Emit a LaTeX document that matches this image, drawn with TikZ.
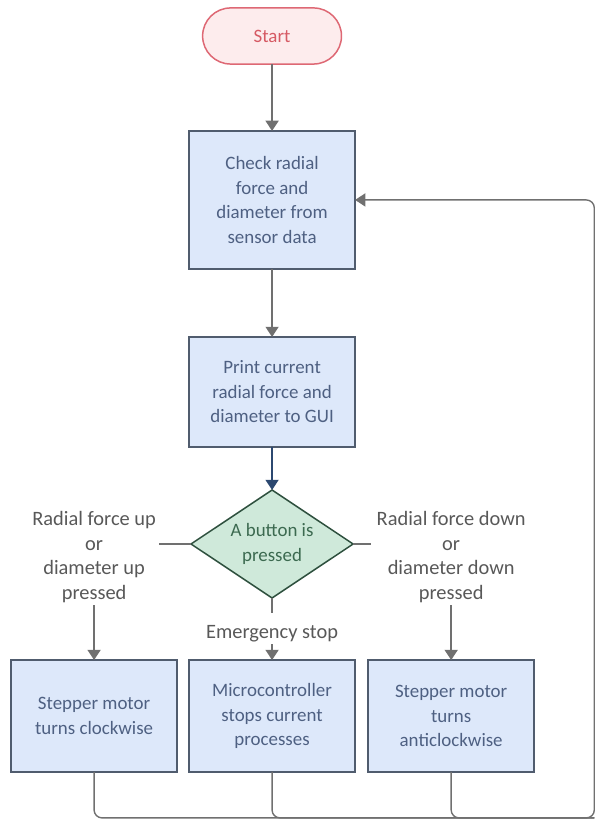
\documentclass[tikz,border=0pt]{standalone}
\usepackage{fontspec}
\setmainfont{Carlito}
\usetikzlibrary{arrows.meta,positioning,shapes.geometric,calc}
\definecolor{boxblue}{RGB}{221,232,250}
\definecolor{boxline}{RGB}{80,92,110}
\definecolor{boxtext}{RGB}{78,96,130}
\definecolor{startfill}{RGB}{253,236,237}
\definecolor{startline}{RGB}{222,104,116}
\definecolor{starttext}{RGB}{214,90,100}
\definecolor{dfill}{RGB}{207,233,218}
\definecolor{dline}{RGB}{46,80,62}
\definecolor{dtext}{RGB}{60,106,80}
\definecolor{conn}{RGB}{112,112,112}
\definecolor{connblue}{RGB}{44,72,112}
\definecolor{lbltext}{RGB}{88,88,88}

\begin{document}
\begin{tikzpicture}[font=\fontsize{19pt}{24.7pt}\selectfont,node distance=4mm,
   s/.style={draw=boxline,line width=1.5pt,fill=boxblue,text=boxtext,outer sep=0pt,
             minimum width=58.6mm,align=center,inner sep=1mm},
   lbl/.style={text=lbltext,align=center,inner sep=2pt,font=\fontsize{20.5pt}{24.7pt}\selectfont},
   ln/.style={line width=1.4pt,draw=conn},
   a/.style={ln,-{Triangle[length=3.6mm,width=4.6mm]}}]
  \useasboundingbox (-96mm,12.7mm) rectangle (114.7mm,-277.7mm);
  \node[draw=startline,line width=1.5pt,fill=startfill,text=starttext,rounded corners=9.9mm,outer sep=0pt,
        minimum width=49mm,minimum height=19.8mm] (start) {Start};
  \node[s,minimum height=48.7mm,below=23.6mm of start] (chk) {Check radial\\force and\\diameter from\\sensor data};
  \node[s,minimum height=38.8mm,below=24mm of chk] (prn) {Print current\\radial force and\\diameter to GUI};
  \node[diamond,draw=dline,line width=1.5pt,fill=dfill,text=dtext,align=center,inner sep=0pt,outer sep=0pt,
        aspect=1.5,minimum width=57.2mm,minimum height=38.1mm,below=15.2mm of prn] (btn) {A button is\\pressed};
  \node[s,minimum height=39.5mm,below=21.9mm of btn] (stop) {Microcontroller\\stops current\\processes};
  \node[s,minimum height=39.5mm,left=4.2mm of stop] (cw) {Stepper motor\\turns clockwise};
  \node[s,minimum height=39.5mm,right=4.6mm of stop] (acw) {Stepper motor\\turns\\anticlockwise};
  \node[lbl,above=19.4mm of cw] (upl) {Radial force up\\or\\diameter up\\pressed};
  \node[lbl,above=19.4mm of acw] (dnl) {Radial force down\\or\\diameter down\\pressed};
  \node[lbl,above=5.6mm of stop] (emg) {Emergency stop};
  % stubs left by the labelled branches
  \coordinate (bl) at ($(btn.west)+(-11.3mm,0)$);
  \coordinate (br) at ($(btn.east)+(6.4mm,0)$);
  \coordinate (bb) at ($(btn.south)+(0,-5.3mm)$);
  \coordinate (rb) at ($(acw.south east)+(21.2mm,-16.2mm)$);
  \draw[a] (start)--(chk);
  \draw[a] (chk)--(prn);
  \draw[a,draw=connblue] (prn)--(btn);
  \draw[ln] (btn.west)--(bl);
  \draw[ln] (btn.east)--(br);
  \draw[ln] (btn.south)--(bb);
  \draw[a] (upl)--(cw);
  \draw[a] (dnl)--(acw);
  \draw[a] (emg)--(stop);
  % back to the sensor check
  \draw[ln,rounded corners=2.8mm] (stop.south) |- (rb);
  \draw[ln,rounded corners=2.8mm] (acw.south) |- (rb);
  \draw[a,rounded corners=2.8mm] (cw.south) |- (rb) |- (chk.east);
\end{tikzpicture}
\end{document}
